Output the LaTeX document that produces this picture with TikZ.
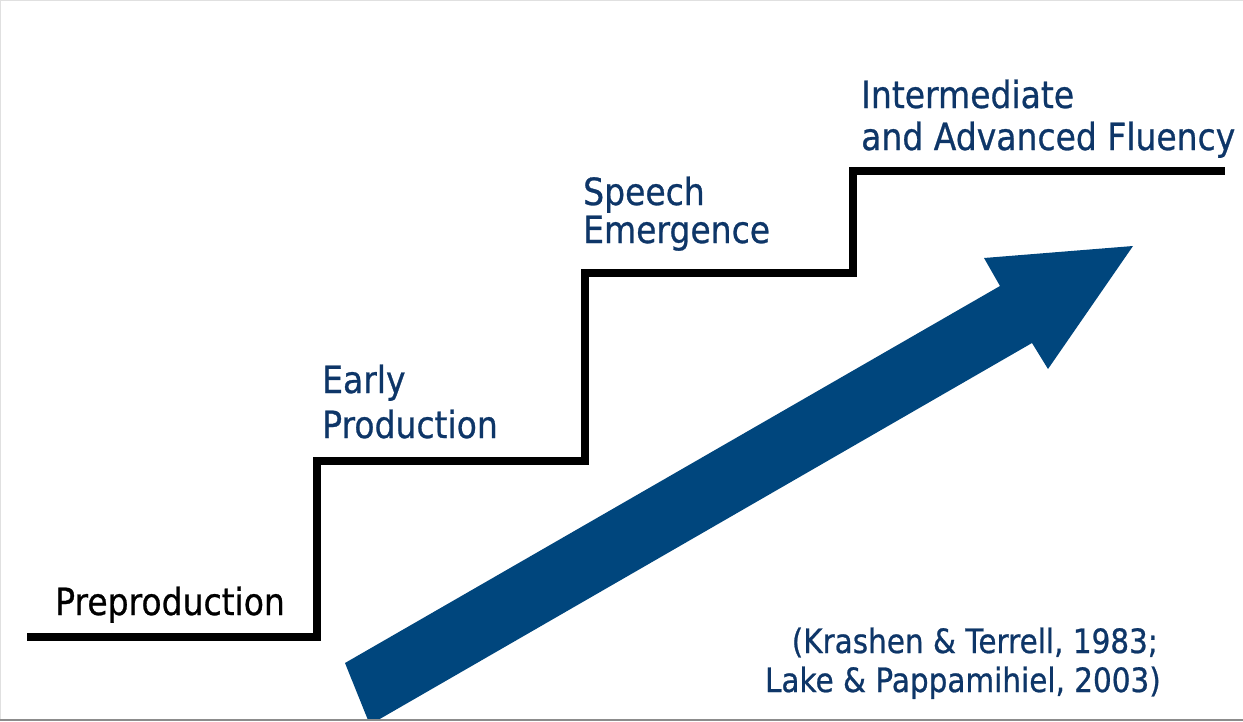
\documentclass[tikz,border=0pt]{standalone}
\usepackage{fontspec}
\newfontfamily\lbl[FakeStretch=0.88,FakeBold=0.7]{DejaVu Sans}
\definecolor{navytext}{RGB}{14,54,104}
\definecolor{arrowblue}{RGB}{0,70,125}
\begin{document}
\begin{tikzpicture}[x=1pt,y=-1pt,
  stage/.style={inner sep=0pt, text=navytext, font=\lbl\fontsize{37.5}{40}\selectfont},
  cite/.style={inner sep=0pt, text=navytext, font=\lbl\fontsize{33.5}{38}\selectfont},
  stair/.style={draw=black, line width=8.5pt, miter limit=10, line join=miter}]
\useasboundingbox (0,0) rectangle (1243,721);
\fill[white] (0,0) rectangle (1243,721);
% staircase
\coordinate (s0) at (27,637);
\coordinate (s1) at (317,637);
\coordinate (s2) at (317,461);
\coordinate (s3) at (585,461);
\coordinate (s4) at (585,273);
\coordinate (s5) at (853,273);
\coordinate (s6) at (853,171);
\coordinate (s7) at (1225,171);
\draw[stair] (s0) -- (s1) -- (s2) -- (s3) -- (s4) -- (s5) -- (s6) -- (s7);
% big arrow
\begin{scope}
\clip (0,0) rectangle (1243,719);
\fill[arrowblue] (345,663) -- (1000,286) -- (984,258) -- (1133,246) -- (1048,369) -- (1032,343) -- (378,720) -- (372,730) -- cycle;
\end{scope}
% labels
\node[stage, text=black, anchor=base west] (pre) at (55,615) {Preproduction};
\node[stage, anchor=base west] (ep1) at (322,393) {Early};
\node[stage, anchor=base west] (ep2) at (322,438) {Production};
\node[stage, anchor=base west] (se1) at (583,205) {Speech};
\node[stage, anchor=base west] (se2) at (583,243) {Emergence};
\node[stage, anchor=base west] (ia1) at (861,108) {Intermediate};
\node[stage, anchor=base west] (ia2) at (861,150) {and Advanced Fluency};
\node[cite, anchor=base east] (c1) at (1158,653) {(Krashen \& Terrell, 1983;};
\node[cite, anchor=base east] (c2) at (1161,692) {Lake \& Pappamihiel, 2003)};
% frame lines
\draw[black!12, line width=1pt] (0,0.5) -- (1243,0.5);
\draw[black!12, line width=1pt] (0.5,0) -- (0.5,721);
\draw[black!45, line width=2pt] (0,720) -- (1243,720);
\end{tikzpicture}
\end{document}
